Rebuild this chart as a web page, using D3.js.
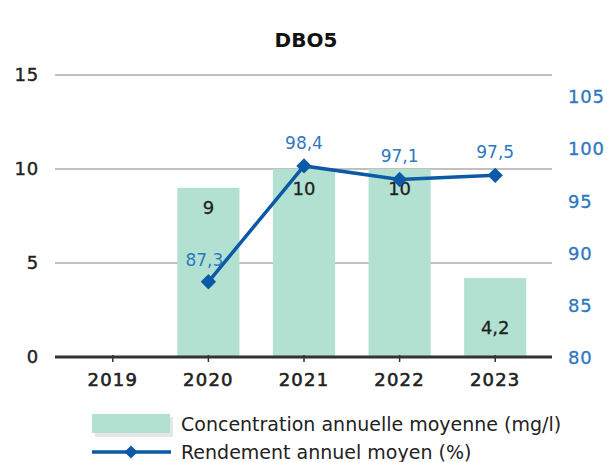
<!DOCTYPE html>
<html>
<head>
<meta charset="utf-8">
<script src="https://cdn.jsdelivr.net/npm/d3@7"></script>
<style>
  body { margin: 0; background: #fff; }
  svg text { font-family: "DejaVu Sans", Verdana, sans-serif; }
</style>
</head>
<body>
<div id="vis"></div>
<script>
// data
const years = ["2019", "2020", "2021", "2022", "2023"];
const concentration = [null, 9, 10, 10, 4.2];
const rendement = [null, 87.3, 98.4, 97.1, 97.5];
const leftTicks = [0, 5, 10, 15];
const rightTicks = [80, 85, 90, 95, 100, 105];

const W = 611, H = 462;
const fmt = d => String(d).replace(".", ",");
const mono = "DejaVu Sans Mono, monospace";
const sans = "Liberation Sans, Arial, sans-serif";

const x = d3.scaleBand()
  .domain(years)
  .range([65, 543])
  .paddingInner(0.35)
  .paddingOuter(0.175);

const yL = d3.scaleLinear().domain([0, 15]).range([357, 75]);
const yR = d3.scaleLinear().domain([80, 105]).range([358, 97]);

const svg = d3.select("#vis").append("svg")
  .attr("width", W)
  .attr("height", H);

svg.append("text")
  .attr("x", 306).attr("y", 47)
  .attr("text-anchor", "middle")
  .attr("font-size", 20).attr("font-weight", "bold")
  .attr("fill", "#111")
  .text("DBO5");

// gridlines + left axis
const leftAxis = d3.axisLeft(yL).tickValues(leftTicks).tickSize(0).tickPadding(0);
const gl = svg.append("g").attr("transform", "translate(39,0)").call(leftAxis);
gl.select(".domain").remove();
gl.selectAll("text")
  .attr("font-family", mono).attr("font-size", 18).attr("letter-spacing", 0.8)
  .attr("fill", "#222").attr("stroke", "#222").attr("stroke-width", 0.4);

svg.append("g").selectAll("line")
  .data(leftTicks.filter(d => d > 0))
  .enter().append("line")
  .attr("x1", 55).attr("x2", 552)
  .attr("y1", d => yL(d)).attr("y2", d => yL(d))
  .attr("stroke", "#c0c0c0").attr("stroke-width", 2);

// right axis
const rightAxis = d3.axisRight(yR).tickValues(rightTicks).tickSize(0).tickPadding(0);
const gr = svg.append("g").attr("transform", "translate(568,0)").call(rightAxis);
gr.select(".domain").remove();
gr.selectAll("text")
  .attr("font-family", mono).attr("font-size", 18).attr("letter-spacing", 0.8)
  .attr("fill", "#2e78c0").attr("stroke", "#2e78c0").attr("stroke-width", 0.3);

// bars
const bars = years.map((y, i) => ({ year: y, v: concentration[i] })).filter(d => d.v != null);
svg.append("g").selectAll("rect")
  .data(bars)
  .enter().append("rect")
  .attr("x", d => x(d.year))
  .attr("y", d => yL(d.v))
  .attr("width", x.bandwidth())
  .attr("height", d => yL(0) - yL(d.v))
  .attr("fill", "#b3e1d1");

// x axis
const xAxis = d3.axisBottom(x).tickSize(6).tickPadding(10);
const gx = svg.append("g").attr("transform", "translate(0,357)").call(xAxis);
gx.select(".domain").remove();
gx.selectAll("line").attr("stroke", "#333").attr("stroke-width", 1.5).attr("y1", -2).attr("y2", 5);
gx.selectAll("text")
  .attr("font-family", mono).attr("font-size", 18).attr("letter-spacing", 1.2)
  .attr("fill", "#222").attr("stroke", "#222").attr("stroke-width", 0.6);
svg.append("line")
  .attr("x1", 55).attr("x2", 552)
  .attr("y1", 357).attr("y2", 357)
  .attr("stroke", "#333").attr("stroke-width", 3);

// bar labels
svg.append("g").selectAll("text")
  .data(bars)
  .enter().append("text")
  .attr("x", d => x(d.year) + x.bandwidth() / 2)
  .attr("y", d => yL(d.v) + (d.v < 5 ? 56 : 26))
  .attr("text-anchor", "middle")
  .attr("font-family", sans)
  .attr("font-size", 18)
  .attr("fill", "#222").attr("stroke", "#222").attr("stroke-width", 0.3)
  .text(d => fmt(d.v));

// line
const pts = years.map((y, i) => ({ year: y, v: rendement[i] })).filter(d => d.v != null);
const line = d3.line()
  .x(d => x(d.year) + x.bandwidth() / 2)
  .y(d => yR(d.v));
svg.append("path")
  .datum(pts)
  .attr("d", line)
  .attr("fill", "none")
  .attr("stroke", "#0b5aa6")
  .attr("stroke-width", 3.5);

svg.append("g").selectAll("path")
  .data(pts)
  .enter().append("path")
  .attr("d", d3.symbol(d3.symbolDiamond2, 150))
  .attr("transform", d => `translate(${x(d.year) + x.bandwidth() / 2},${yR(d.v)})`)
  .attr("fill", "#0b5aa6");

svg.append("g").selectAll("text")
  .data(pts)
  .enter().append("text")
  .attr("x", d => x(d.year) + x.bandwidth() / 2 + (d.v < 90 ? -4 : 0))
  .attr("y", d => yR(d.v) - (d.v < 90 ? 16 : 17))
  .attr("text-anchor", "middle")
  .attr("font-family", sans)
  .attr("font-size", 17)
  .attr("fill", "#2e78c0")
  .text(d => fmt(d.v));

// legend
const lg = svg.append("g").attr("font-family", sans);
lg.append("rect").attr("x", 95).attr("y", 417).attr("width", 78).attr("height", 20).attr("fill", "#e6e6e6");
lg.append("rect").attr("x", 92).attr("y", 414).attr("width", 78).attr("height", 19).attr("fill", "#b3e1d1");
lg.append("text").attr("x", 181).attr("y", 431).attr("font-size", 19).attr("fill", "#222")
  .text("Concentration annuelle moyenne (mg/l)");
lg.append("line").attr("x1", 92).attr("x2", 171).attr("y1", 452).attr("y2", 452)
  .attr("stroke", "#0b5aa6").attr("stroke-width", 3.5);
lg.append("path").attr("d", d3.symbol(d3.symbolDiamond2, 110))
  .attr("transform", "translate(131,452)").attr("fill", "#0b5aa6");
lg.append("text").attr("x", 181).attr("y", 459).attr("font-size", 19).attr("fill", "#222")
  .text("Rendement annuel moyen (%)");
</script>
</body>
</html>
